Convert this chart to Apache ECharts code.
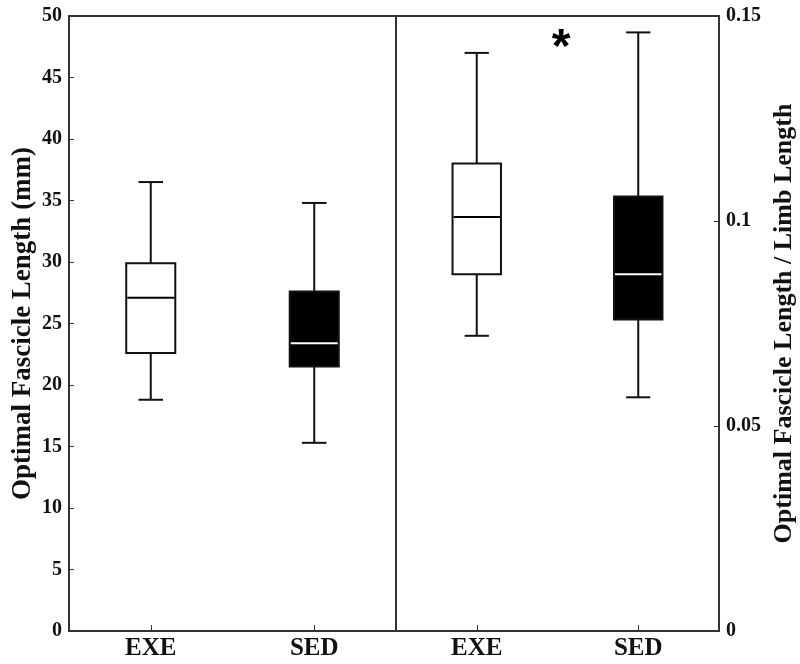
<!DOCTYPE html>
<html>
<head>
<meta charset="utf-8">
<script src="https://cdn.jsdelivr.net/npm/echarts@6/dist/echarts.min.js"></script>
<style>
  html, body { margin: 0; padding: 0; background: #fff; }
  #chart { width: 800px; height: 664px; }
</style>
</head>
<body>
<div id="chart"></div>
<script>
// groups on the x axis (same in both panels)
const groups = ["EXE", "SED"];
// box stats: [low whisker, Q1, median, Q3, high whisker]
const lengthStats = [
  [18.8, 22.6, 27.1, 29.9, 36.5], // EXE
  [15.3, 21.5, 23.4, 27.6, 34.8], // SED
];
const ratioStats = [
  [0.072, 0.087, 0.101, 0.114, 0.141], // EXE
  [0.057, 0.076, 0.087, 0.106, 0.146], // SED
];
// box fill and median colour per group
const boxFill = ["#ffffff", "#000000"];
const medianColor = ["#000000", "#ffffff"];

const serif = "'Liberation Serif', 'Times New Roman', serif";

// draw one box + whiskers from the data through the axis scales
function renderBox(params, api) {
  const i = api.value(0);
  const low = api.coord([i, api.value(1)]);
  const q1 = api.coord([i, api.value(2)]);
  const med = api.coord([i, api.value(3)]);
  const q3 = api.coord([i, api.value(4)]);
  const high = api.coord([i, api.value(5)]);
  const band = api.size([1, 0])[0];
  const bw = band * 0.3;
  const cw = band * 0.15;
  const cx = low[0];
  const line = { stroke: "#111", lineWidth: 2 };
  return {
    type: "group",
    children: [
      { type: "line", shape: { x1: cx, y1: high[1], x2: cx, y2: q3[1] }, style: line },
      { type: "line", shape: { x1: cx, y1: q1[1], x2: cx, y2: low[1] }, style: line },
      { type: "line", shape: { x1: cx - cw / 2, y1: high[1], x2: cx + cw / 2, y2: high[1] }, style: line },
      { type: "line", shape: { x1: cx - cw / 2, y1: low[1], x2: cx + cw / 2, y2: low[1] }, style: line },
      {
        type: "rect",
        shape: { x: cx - bw / 2, y: q3[1], width: bw, height: q1[1] - q3[1] },
        style: { fill: boxFill[i], stroke: "#111", lineWidth: 2 },
      },
      {
        type: "line",
        shape: { x1: cx - bw / 2 + 1, y1: med[1], x2: cx + bw / 2 - 1, y2: med[1] },
        style: { stroke: medianColor[i], lineWidth: 2 },
      },
    ],
  };
}

const toData = (stats) => stats.map((s, i) => [i].concat(s));

const xAxisBase = {
  type: "category",
  data: groups,
  axisLine: { show: false },
  axisTick: { show: true, inside: true, length: 6, alignWithLabel: true, lineStyle: { color: "#333", width: 1 } },
  axisLabel: { color: "#111", fontFamily: serif, fontWeight: "bold", fontSize: 25, margin: 5 },
  splitLine: { show: false },
};

const chart = echarts.init(document.getElementById("chart"));
chart.setOption({
  backgroundColor: "#fff",
  animation: false,
  grid: [
    { left: 69, top: 16, width: 327, bottom: 33, show: true, borderColor: "#333", borderWidth: 2 },
    { left: 396, top: 16, right: 81, bottom: 33, show: true, borderColor: "#333", borderWidth: 2 },
  ],
  xAxis: [
    Object.assign({ gridIndex: 0 }, xAxisBase),
    Object.assign({ gridIndex: 1 }, xAxisBase),
  ],
  yAxis: [
    {
      gridIndex: 0,
      type: "value",
      min: 0,
      max: 50,
      interval: 5,
      name: "Optimal Fascicle Length (mm)",
      nameLocation: "middle",
      nameRotate: 90,
      nameGap: 32,
      nameTextStyle: { color: "#111", fontFamily: serif, fontWeight: "bold", fontSize: 27 },
      axisLine: { show: false },
      axisTick: { show: true, inside: true, length: 5, lineStyle: { color: "#333" } },
      axisLabel: { color: "#111", fontFamily: serif, fontWeight: "bold", fontSize: 20, margin: 7 },
      splitLine: { show: false },
    },
    {
      gridIndex: 1,
      type: "value",
      position: "right",
      min: 0,
      max: 0.15,
      interval: 0.05,
      name: "Optimal Fascicle Length / Limb Length",
      nameLocation: "middle",
      nameRotate: 90,
      nameGap: 52,
      nameTextStyle: { color: "#111", fontFamily: serif, fontWeight: "bold", fontSize: 26 },
      axisLine: { show: false },
      axisTick: { show: true, inside: true, length: 5, lineStyle: { color: "#333" } },
      axisLabel: { color: "#111", fontFamily: serif, fontWeight: "bold", fontSize: 20, margin: 7 },
      splitLine: { show: false },
    },
  ],
  series: [
    {
      type: "custom",
      xAxisIndex: 0,
      yAxisIndex: 0,
      renderItem: renderBox,
      encode: { x: 0, y: [1, 2, 3, 4, 5] },
      data: toData(lengthStats),
    },
    {
      type: "custom",
      xAxisIndex: 1,
      yAxisIndex: 1,
      renderItem: renderBox,
      encode: { x: 0, y: [1, 2, 3, 4, 5] },
      data: toData(ratioStats),
    },
  ],
  graphic: [
    {
      type: "text",
      x: 561,
      y: 49,
      style: { text: "*", font: "bold 48px 'Liberation Sans', Arial, sans-serif", fill: "#000", textAlign: "center", textVerticalAlign: "middle" },
    },
  ],
});
</script>
</body>
</html>
